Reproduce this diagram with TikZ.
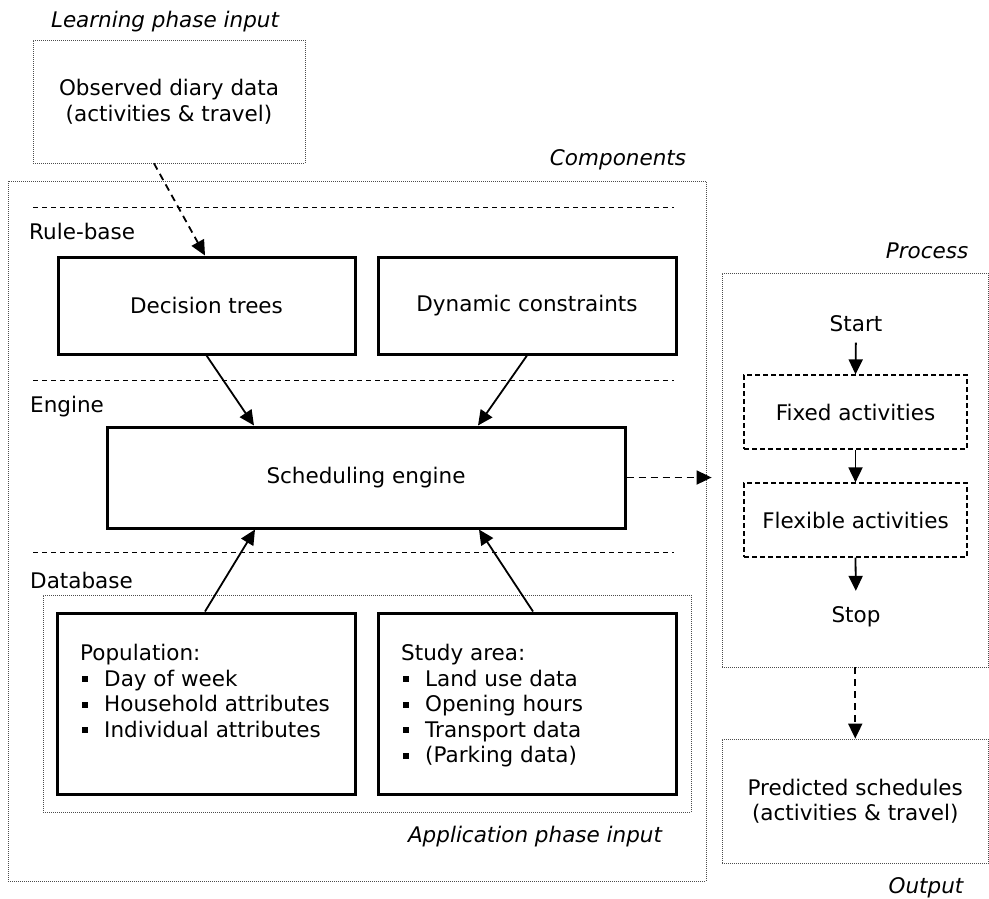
\documentclass[tikz,border=0pt]{standalone}
\usepackage{fontspec}
\setmainfont{DejaVu Sans}
\usetikzlibrary{arrows.meta}

\newcommand{\basefont}{\fontsize{21.5}{25.5}\selectfont}
\newcommand{\itm}{\makebox[24pt][l]{\hspace{2pt}\rule[4pt]{6pt}{6pt}}}

\tikzset{
  dotbox/.style={draw=black!70, line width=0.8pt, dash pattern=on 1pt off 1pt,
    rectangle, inner sep=0pt},
  solidbox/.style={draw=black, line width=3pt, rectangle, inner sep=0pt, fill=white},
  dashbox/.style={draw=black, line width=1.2pt, dash pattern=on 5pt off 3pt,
    rectangle, inner sep=0pt},
  separator/.style={draw=black, line width=1pt, dash pattern=on 5pt off 4pt},
  tip/.style={-{Triangle[length=15pt,width=14pt]}},
  link/.style={tip, line width=1.8pt},
  dashlink/.style={tip, line width=1.8pt, dash pattern=on 7pt off 5pt},
  caption/.style={font=\basefont\itshape, inner sep=0pt, anchor=base},
  layer/.style={inner sep=0pt, anchor=base west},
  plain/.style={inner sep=0pt, anchor=base},
}

\begin{document}
\begin{tikzpicture}[x=1pt, y=-1pt, font=\basefont]
\useasboundingbox (0,0) rectangle (989,898);

% --- outer frames ---
\node[dotbox, minimum width=272pt, minimum height=123pt, align=center]
  (learn) at (169,101.5) {Observed diary data\\(activities \& travel)};
\node[dotbox, minimum width=698pt, minimum height=700pt] (comp) at (357,531) {};
\node[dotbox, minimum width=648pt, minimum height=217pt] (db) at (367,703.5) {};
\node[dotbox, minimum width=266.5pt, minimum height=394pt] (proc) at (855.25,470) {};
\node[dotbox, minimum width=266.5pt, minimum height=124pt, align=center]
  (out) at (855.25,801) {Predicted schedules\\(activities \& travel)};

% --- frame captions ---
\node[caption] (learncap) at (165,27) {Learning phase input};
\node[caption] (compcap) at (618,165) {Components};
\node[caption] (proccap) at (927,258) {Process};
\node[caption] (outcap) at (926,893) {Output};
\node[caption] (appcap) at (535,842) {Application phase input};

% --- layer separators and names ---
\draw[separator] (33,207.5) -- (674,207.5);
\draw[separator] (33,380.5) -- (674,380.5);
\draw[separator] (33,552.5) -- (674,552.5);
\node[layer] (rulelbl) at (29,239) {Rule-base};
\node[layer] (englbl) at (30,412) {Engine};
\node[layer] (dblbl) at (30,588) {Database};

% --- components ---
\node[solidbox, minimum width=297pt, minimum height=97pt] (dt) at (206.5,305.5) {Decision trees};
\node[solidbox, minimum width=298pt, minimum height=97pt] (dc) at (527,305.5) {Dynamic constraints};
\node[solidbox, minimum width=518pt, minimum height=101pt] (eng) at (366,477.5) {Scheduling engine};
\node[solidbox, minimum width=298pt, minimum height=181pt] (pop) at (206,703.5) {};
\node[solidbox, minimum width=298pt, minimum height=181pt] (study) at (527,703.5) {};
\node[inner sep=0pt, anchor=north west, align=left] (poptext) at (80,644)
  {Population:\\\itm Day of week\\\itm Household attributes\\\itm Individual attributes};
\node[inner sep=0pt, anchor=north west, align=left] (studytext) at (401,644)
  {Study area:\\\itm Land use data\\\itm Opening hours\\\itm Transport data\\\itm (Parking data)};

% --- process steps ---
\node[plain] (start) at (856,331) {Start};
\node[dashbox, minimum width=223pt, minimum height=74pt] (fixed) at (855.5,412) {Fixed activities};
\node[dashbox, minimum width=223pt, minimum height=74pt] (flex) at (855.5,520) {Flexible activities};
\node[plain] (stop) at (856,622) {Stop};

% --- connectors ---
\draw[dashlink] ([xshift=-15pt]learn.south) -- ([xshift=-1.5pt]dt.north);
\draw[link] (dt.south) -- ([xshift=-112pt]eng.north);
\draw[link] (dc.south) -- ([xshift=112pt]eng.north);
\draw[link] ([xshift=-1pt]pop.north) -- ([xshift=-111pt]eng.south);
\draw[link] ([xshift=6pt]study.north) -- ([xshift=113pt]eng.south);
\draw[dashlink, shorten >=10pt] (eng.east) -- (eng.east -| proc.west);
\draw[link, shorten <=11pt] (start.south) -- (fixed.north);
\draw[link] (fixed.south) -- (flex.north);
\draw[link, shorten >=15pt] (flex.south) -- (stop.north);
\draw[dashlink] (proc.south) -- (out.north);
\end{tikzpicture}
\end{document}
